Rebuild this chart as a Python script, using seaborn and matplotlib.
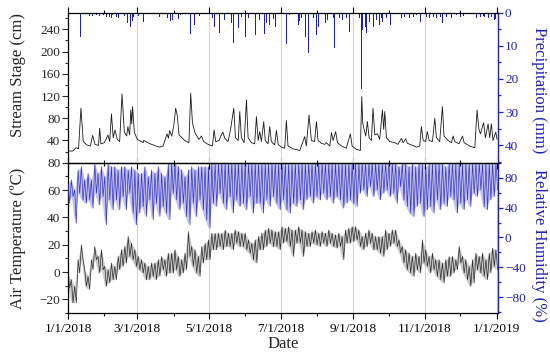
import numpy as np
import pandas as pd
import matplotlib
matplotlib.use("Agg")
import matplotlib.pyplot as plt
import matplotlib.dates as mdates
from matplotlib.ticker import MultipleLocator, FixedLocator
import seaborn as sns

sns.set_style("ticks")
plt.rcParams["font.family"] = ["Liberation Serif", "DejaVu Serif"]

# ---------------- data ----------------
start_date = "2018-01-01"

# Stream stage (cm): day offset from 1/1/2018 and stage
stage_day = [0, 4, 7, 9, 11, 13, 16, 19, 21, 23, 26, 27, 28, 31, 34, 35.5, 37, 38.5, 40, 42,
             44, 46, 48, 50, 51, 52.5, 53.5, 54.3, 55, 56.5, 59, 62.5, 64, 64.5, 70, 75, 78, 81,
             84.4, 85.5, 86.6, 88.3, 90, 91.7, 93, 94.6, 96.6, 99.4, 103, 104.5, 106, 108, 110,
             111.6, 113.6, 115.6, 119.3, 123, 124.4, 125.8, 128.7, 130.6, 132, 133.5, 136.3,
             138.3, 139.2, 141.2, 142.6, 145, 146.3, 147.7, 150, 152, 153.4, 156.2, 159, 160.5,
             162, 163.3, 164.7, 166.7, 168, 170.4, 171.8, 173.2, 176, 177.5, 179, 181.7, 184.6,
             186, 187.4, 191.7, 197.4, 201.6, 203, 205.3, 207.3, 210, 211.6, 213, 215.8, 218.7,
             220, 223, 224.4, 225.8, 228, 229.5, 233, 237, 240.5, 242, 245.6, 249, 250.2, 251,
             252.2, 253.6, 255, 256.4, 258.4, 259.8, 261.3, 263.5, 265.5, 267.8, 268.9, 269.8,
             271.2, 274, 278.3, 281, 284, 285.4, 287.7, 289, 292.5, 296.8, 299.6, 301, 302.5,
             304.7, 306, 307.6, 310.4, 312.4, 313.8, 316.6, 318.9, 320.3, 323.7, 326.6, 328,
             329.4, 333, 336, 337.4, 342, 346.5, 348.4, 350, 351.3, 354, 355.5, 357.8, 359.2,
             360.6, 362, 364.3, 365.5]
stage_cm = [21, 21, 27, 25, 98, 38, 32, 30, 49, 33, 31, 62, 34, 36, 50, 38, 88, 45, 59, 42,
            38, 124, 55, 48, 65, 50, 95, 70, 101, 55, 42, 38, 36, 40, 34, 30, 28, 30,
            52, 44, 58, 48, 65, 98, 86, 50, 46, 40, 36, 125, 72, 55, 47,
            42, 48, 38, 33, 30, 59, 38, 40, 50, 55, 44, 38,
            58, 70, 98, 45, 40, 92, 45, 36, 113, 45, 36, 34, 83,
            40, 56, 38, 74, 40, 34, 65, 38, 32, 58, 33, 28, 26,
            76, 30, 25, 22, 47, 30, 86, 40, 38, 74, 40, 35, 33,
            36, 30, 54, 40, 56, 36, 30, 26, 52, 30, 24, 22, 119, 72,
            60, 48, 74, 45, 40, 98, 50, 52, 42, 95, 60, 92,
            45, 38, 36, 33, 44, 36, 43, 35, 32, 28, 30, 65, 40,
            38, 56, 40, 38, 80, 45, 38, 101, 48, 40, 36, 48,
            38, 34, 48, 36, 30, 27, 95, 60, 52, 72, 45, 70, 45,
            70, 40, 55, 42]

# Precipitation (mm): day offset and daily total
precip_day = [11, 18, 21, 24, 27, 30, 33, 35, 37, 38, 41, 43, 46, 48, 51, 53, 55, 56, 60, 64, 69,
              78, 85, 87, 89, 92, 94, 96, 104, 108, 112, 123, 125, 129, 132, 133, 139, 141, 145,
              148, 151, 154, 160, 163, 167, 169, 172, 175, 177, 186, 189, 196, 197, 199, 202,
              205, 209, 212, 213, 219, 221, 224, 226, 227, 231, 234, 237, 240, 248, 250, 251,
              253, 254, 257, 260, 263, 265, 267, 268, 271, 275, 284, 287, 291, 294, 297, 300,
              305, 308, 311, 314, 317, 319, 322, 327, 331, 334, 337, 348, 351, 354, 355, 358,
              361, 363, 364]
precip_mm = [7.2, 1.0, 1.0, 0.7, 1.0, 0.7, 1.2, 1.4, 1.7, 0.7, 1.2, 1.7, 5.0, 1.0, 3.2, 4.2,
             2.4, 1.2, 1.0, 2.7, 0.7, 1.4, 1.7, 2.4, 2.2, 3.2, 2.0, 0.7, 6.4, 3.7, 1.0, 1.7,
             4.4, 6.2, 4.0, 2.2, 3.2, 9.0, 4.7, 1.4, 7.2, 1.7, 6.7, 2.2, 6.4, 3.0, 3.7, 2.0,
             4.2, 9.4, 0.7, 3.7, 2.4, 1.7, 7.2, 12.2, 1.7, 6.7, 4.2, 3.2, 2.2, 2.2, 1.7, 10.7,
             1.7, 2.2, 1.7, 5.7, 1.7, 23.1, 5.2, 4.2, 6.2, 2.7, 4.2, 2.2, 3.7, 1.7, 2.7, 1.7,
             3.7, 1.7, 1.2, 1.7, 1.2, 0.7, 2.7, 1.2, 1.7, 1.2, 1.7, 1.2, 3.2, 1.2, 1.7, 0.7,
             1.2, 1.0, 1.7, 1.2, 1.0, 1.4, 1.7, 1.2, 2.2, 2.0]

# Air temperature (degC): upper / lower envelope of the diurnal band, ~2.8-day samples
temp_hi = [-2.0, -5.6, -10.4, 9.0, 19.9, 1.7, -3.2, 9.0, 18.7, 11.4, 16.3, 4.1, 1.7, 6.6, 4.1,
           11.4, 16.3, 18.7, 26.0, 21.1, 16.3, 11.4, 9.0, 6.6, 4.1, 6.6, 6.6, 9.0, 11.4, 9.0,
           13.8, 13.8, 16.3, 11.4, 9.0, 13.8, 29.6, 18.7, 16.3, 11.4, 18.7, 21.1, 23.5, 28.4,
           28.4, 28.4, 28.4, 30.8, 28.4, 28.4, 30.8, 29.6, 28.4, 28.4, 23.5, 21.1, 23.5, 26.0,
           28.4, 30.8, 32.0, 30.8, 29.6, 29.6, 33.2, 32.0, 33.2, 30.8, 30.8, 33.2,
           30.8, 29.6, 28.4, 29.6, 30.8, 28.4, 29.6, 28.4, 30.8, 28.4, 27.2, 28.4, 26.0, 30.8,
           32.0, 33.2, 33.2, 30.8, 26.0, 28.4, 30.8, 28.4, 26.0, 26.0, 26.0, 30.8, 28.4, 30.8,
           30.8, 23.5, 18.7, 16.3, 13.8, 11.4, 13.8, 11.4, 23.5, 16.3, 11.4, 13.8, 9.0, 9.0,
           6.6, 9.0, 11.4, 11.4, 9.0, 18.7, 11.4, 9.0, 4.1, 9.0, 13.8, 11.4, 13.8, 9.0, 13.8,
           17.5, 16.3]
temp_lo = [-11.6, -22.5, -22.5, -0.7, 9.0, -10.4, -12.8, 1.7, 9.0, -0.7, 1.7, -10.4, -8.0,
           -5.6, -5.6, 1.7, 4.1, 6.6, 11.4, 9.0, 4.1, 1.7, -0.7, -5.6, -5.6, -3.2, -5.6, -3.2,
           1.7, -3.2, -0.7, -0.7, 1.7, -3.2, -0.7, 1.7, 11.4, 4.1, -0.7, -3.2, 6.6, 9.0, 9.0,
           16.3, 16.3, 18.7, 16.3, 18.7, 18.7, 16.3, 21.1, 18.7, 18.7, 16.3, 13.8, 9.0, 6.6,
           16.3, 16.3, 18.7, 21.1, 18.7, 18.7, 16.3, 21.1, 22.3, 18.7, 11.4, 21.1, 21.1,
           11.4, 18.7, 18.7, 21.1, 19.9, 18.7, 21.1, 18.7, 21.1, 18.7, 17.5, 18.7, 9.0, 21.1,
           21.1, 22.3, 23.5, 18.7, 16.3, 18.7, 21.1, 16.3, 16.3, 13.8, 11.4, 16.3, 18.7, 21.1,
           18.7, 13.8, 6.6, 1.7, -0.7, -3.2, 1.7, -0.7, 6.6, 4.1, -0.7, 1.7, -3.2, -5.6, -8.0,
           -3.2, -3.2, -0.7, 1.7, 6.6, -0.7, -5.6, -10.4, -8.0, 1.7, -0.7, -3.2, -5.6, -0.7,
           4.1, 1.7]

# Relative humidity (%): upper / lower envelope, same samples
rh_hi = [72.5, 77, 63.6, 90.3, 94.7, 77, 85.8, 77, 99, 85.8, 94.7, 81.4, 99, 94.7, 94.7, 90.3,
         94.7, 94.7, 90.3, 94.7, 90.3, 85.8, 85.8, 94.7, 81.4, 90.3, 85.8, 94.7, 85.8, 81.4,
         99, 99, 99, 94.7, 90.3, 81.4, 90.3, 94.7, 90.3, 94.7, 94.7, 94.7, 94.7, 99, 99, 99,
         99, 99, 99, 99, 99, 99, 99, 99, 99, 99, 99, 99, 99, 99, 99, 99, 99, 99, 99, 99, 99,
         99, 99, 99,
         99, 99, 99, 99, 99, 99, 99, 99, 99, 99, 99, 99, 99, 99, 99, 99, 99, 99, 99, 99, 99,
         99, 99, 99, 99, 99, 99, 99, 99, 94.7, 99, 99, 94.7, 99, 94.7, 99, 99, 94.7, 99, 99,
         99, 99, 99, 94.7, 99, 99, 99, 99, 99, 99, 99, 99, 99, 99, 99, 99, 99, 99, 99]
rh_lo = [45.8, 54.7, 19.2, 59.2, 50.3, 45.8, 50.3, 39.2, 59.2, 43.6, 54.7, 17, 50.3, 37, 50.3,
         37, 54.7, 37, 59.2, 32.5, 17, 32.5, 41.4, 28, 50.3, 23.6, 45.8, 28, 41.4, 32.5, 23.6,
         59.2, 50.3, 37, 45.8, 28, 17, 45.8, 28, 50.3, 37, 23.6, 12.5, 45.8, 41.4, 59.2, 45.8,
         37, 54.7, 32.5, 50.3, 41.4, 45.8, 37, 54.7, 32.5, 45.8, 45.8, 32.5, 50.3, 41.4, 54.7,
         45.8, 37, 50.3, 37, 32.5, 45.8, 41.4, 50.3,
         37, 50.3, 54.7, 45.8, 54.7, 50.3, 59.2, 50.3, 54.7, 45.8, 54.7, 50.3, 39.2, 45.8,
         50.3, 45.8, 41.4, 59.2, 63.6, 54.7, 68, 54.7, 63.6, 50.3, 59.2, 63.6, 54.7, 59.2,
         45.8, 68, 50.3, 41.4, 32.5, 28, 41.4, 45.8, 28, 37, 41.4, 32.5, 50.3, 37, 45.8, 41.4,
         54.7, 50.3, 32.5, 45.8, 37, 50.3, 41.4, 59.2, 54.7, 63.6, 41.4, 37, 50.3, 54.7, 63.6]

# ---------------- build tables ----------------
t0 = pd.Timestamp(start_date)
stage_df = pd.DataFrame({"date": t0 + pd.to_timedelta(stage_day, unit="D"), "stage": stage_cm})
precip_df = pd.DataFrame({"date": t0 + pd.to_timedelta(precip_day, unit="D"), "mm": precip_mm})

n_met = len(temp_hi)
met_dates = pd.date_range(start_date, "2018-12-31 12:00", periods=n_met)
half = (met_dates[1] - met_dates[0]) / 2
met_t = np.empty(2 * n_met, dtype="datetime64[ns]")
met_t[0::2] = met_dates.values
met_t[1::2] = (met_dates + half).values
temp_v = np.empty(2 * n_met); temp_v[0::2] = temp_hi; temp_v[1::2] = temp_lo
rh_v = np.empty(2 * n_met); rh_v[0::2] = rh_hi; rh_v[1::2] = rh_lo
met_df = pd.DataFrame({"date": met_t, "temp": temp_v, "rh": rh_v})

# ---------------- figure ----------------
blue = "#2323b4"
bar_blue = "#1a1acc"
fig = plt.figure(figsize=(5.5, 3.56), dpi=100)
L, W = 68 / 550, 430 / 550
ax1 = fig.add_axes([L, 1 - 162.7 / 356, W, 150 / 356])
ax2 = fig.add_axes([L, 1 - 313 / 356, W, 150.3 / 356], sharex=ax1)
ax1r = ax1.twinx()
ax2r = ax2.twinx()

xmin, xmax = pd.Timestamp("2018-01-01"), pd.Timestamp("2019-01-02 06:00")

# top: stage + precipitation
ax1r.bar(precip_df["date"], precip_df["mm"], width=0.8, color=bar_blue, linewidth=0)
sns.lineplot(data=stage_df, x="date", y="stage", ax=ax1, color="#1a1a1a", lw=0.6,
             estimator=None, sort=False)
ax1.set_zorder(ax1r.get_zorder() + 1)
ax1.patch.set_visible(False)

# bottom: RH + temperature (diurnal band: light envelope + zigzag trace)
ax2r.fill_between(met_dates, rh_lo, rh_hi, color="#7b7bd6", alpha=0.45, lw=0)
sns.lineplot(data=met_df, x="date", y="rh", ax=ax2r, color="#3535c4", lw=0.5,
             estimator=None, sort=False)
ax2.fill_between(met_dates, temp_lo, temp_hi, color="#8a8a8a", alpha=0.45, lw=0)
sns.lineplot(data=met_df, x="date", y="temp", ax=ax2, color="#2e2e2e", lw=0.5,
             estimator=None, sort=False)

for ax in (ax1, ax2):
    ax.set_xlim(xmin, xmax)
    ax.xaxis.set_major_locator(mdates.MonthLocator(bymonth=[1, 3, 5, 7, 9, 11]))
    ax.xaxis.set_minor_locator(mdates.MonthLocator())
    ax.xaxis.set_major_formatter(mdates.DateFormatter("%-m/%-d/%Y"))
    ax.grid(axis="x", which="major", color="#d4d4d4", lw=0.8)
    ax.set_xlabel("")
    ax.set_ylabel("")
    ax.tick_params(axis="x", which="both", top=True, direction="out", colors="black")
    ax.tick_params(axis="x", which="major", length=4, width=0.8, labelsize=9.5)
    ax.tick_params(axis="x", which="minor", length=2.5, width=0.8)
    ax.tick_params(axis="y", which="major", length=4, width=0.8, labelsize=9.5, pad=1.5)
    ax.tick_params(axis="y", which="minor", length=2.5, width=0.8)
    for s in ax.spines.values():
        s.set_linewidth(0.9)
        s.set_color("black")
    ax.spines["right"].set_visible(False)

ax1.tick_params(axis="x", labelbottom=False)
ax1.set_ylim(0, 270)
ax1.yaxis.set_major_locator(FixedLocator([40, 80, 120, 160, 200, 240]))
ax1.yaxis.set_minor_locator(MultipleLocator(20))

ax2.set_ylim(-30, 80)
ax2.yaxis.set_major_locator(MultipleLocator(20))
ax2.yaxis.set_minor_locator(MultipleLocator(10))

ax1r.set_ylim(45.3, 0)
ax1r.yaxis.set_major_locator(MultipleLocator(10))
ax1r.yaxis.set_minor_locator(MultipleLocator(5))
ax2r.set_ylim(-101, 100)
ax2r.yaxis.set_major_locator(FixedLocator([-80, -40, 0, 40, 80]))
ax2r.yaxis.set_minor_locator(MultipleLocator(20))

for ax in (ax1r, ax2r):
    ax.set_ylabel("")
    ax.grid(False)
    for name, s in ax.spines.items():
        s.set_visible(name == "right")
    ax.spines["right"].set_color(blue)
    ax.spines["right"].set_linewidth(1.0)
    ax.tick_params(axis="y", which="both", colors=blue, labelcolor=blue, pad=1.5)
    ax.tick_params(axis="y", which="major", length=3.5, width=0.9, labelsize=9.5)
    ax.tick_params(axis="y", which="minor", length=2, width=0.9)

fs = 12
fig.text(18.5 / 550, 1 - 75 / 356, "Stream Stage (cm)", rotation=90, ha="center", va="center", fontsize=fs)
fig.text(18.5 / 550, 1 - 238.5 / 356, "Air Temperature (ºC)", rotation=90, ha="center", va="center", fontsize=fs)
fig.text(539 / 550, 1 - 90 / 356, "Precipitation (mm)", rotation=270, ha="center", va="center", fontsize=fs, color=blue)
fig.text(539 / 550, 1 - 245 / 356, "Relative Humidity (%)", rotation=270, ha="center", va="center", fontsize=fs, color=blue)
fig.text(283 / 550, 1 - 344 / 356, "Date", ha="center", va="center", fontsize=fs)

fig.savefig("out.png", dpi=100)
